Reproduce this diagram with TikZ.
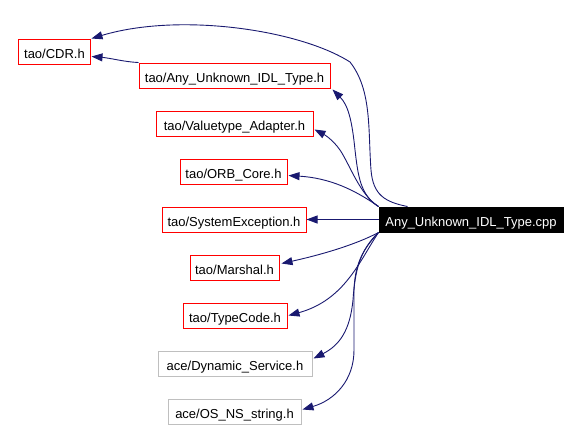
\documentclass[tikz,border=0pt]{standalone}
\usepackage{fontspec}
\setmainfont{Liberation Sans}
\usetikzlibrary{arrows.meta,calc}
\definecolor{edgeblue}{HTML}{191970}
\definecolor{boxred}{HTML}{FF0000}
\definecolor{boxgray}{HTML}{BFBFBF}
\tikzset{
  hdr/.style={draw=boxred, line width=1bp, inner sep=0pt, minimum height=25bp,
    text height=14bp, text depth=0bp,
    font=\fontsize{13bp}{15bp}\selectfont, text=black},
  extbox/.style={hdr, draw=boxgray},
  srcbox/.style={hdr, draw=black, fill=black, text=white},
  edge/.style={draw=edgeblue, line width=0.9bp,
    -{Triangle[length=11bp,width=8bp]}}
}
\begin{document}
\begin{tikzpicture}[x=1bp,y=-1bp]
\useasboundingbox (0,0) rectangle (582,430);
\node[hdr, minimum width=71bp] (cdr) at (54.5,51.5) {tao/CDR.h};
\node[hdr, minimum width=191bp] (anyh) at (234.5,75.5) {tao/Any\_Unknown\_IDL\_Type.h};
\node[hdr, minimum width=157bp] (vta) at (234.5,123.5) {tao/Valuetype\_Adapter.h};
\node[hdr, minimum width=107bp] (orb) at (233.5,171.5) {tao/ORB\_Core.h};
\node[hdr, minimum width=144bp] (sysex) at (234,219.5) {tao/SystemException.h};
\node[hdr, minimum width=89bp] (marshal) at (234.5,267.5) {tao/Marshal.h};
\node[hdr, minimum width=104bp] (typecode) at (235,315.5) {tao/TypeCode.h};
\node[extbox, minimum width=154bp] (dyn) at (235,363.5) {ace/Dynamic\_Service.h};
\node[extbox, minimum width=133bp] (osns) at (234.5,411.5) {ace/OS\_NS\_string.h};
\node[srcbox, minimum width=184bp] (cpp) at (471,219.5) {Any\_Unknown\_IDL\_Type.cpp};

\draw[edge] ($(cpp.north west)+(29,0)$) .. controls (385,202) and (373,195) .. (371,170)
  .. controls (368,130) and (372,90) .. (350,62)
  .. controls (300,30) and (180,12) .. ($(cdr.north east)+(1,0)$);
\draw[edge] (anyh.north west) .. controls (125,62) and (110,58) .. ($(cdr.east)+(1,5)$);
\draw[edge] (cpp.north west) .. controls (360,195) and (358,175) .. (355,150)
  .. controls (352,120) and (348,105) .. ($(anyh.south east)+(2,1)$);
\draw[edge] (cpp.north west) .. controls (360,195) and (350,165) .. (340,150)
  .. controls (333,140) and (325,135) .. ($(vta.east)+(1,6)$);
\draw[edge] (cpp.north west) .. controls (355,190) and (330,178) .. ($(orb.east)+(1,4)$);
\draw[edge] (cpp.west) -- (sysex.east);
\draw[edge] (cpp.south west) .. controls (355,245) and (320,255) .. ($(marshal.east)+(2,-4)$);
\draw[edge] (cpp.south west) .. controls (360,260) and (345,300) .. ($(typecode.east)+(1,0)$);
\draw[edge] (cpp.south west) .. controls (360,250) and (355,270) .. (353,300)
  .. controls (350,330) and (340,345) .. ($(dyn.east)+(1,-5)$);
\draw[edge] (cpp.south west) .. controls (362,250) and (355,265) .. (354,290)
  -- (354,350) .. controls (354,380) and (335,400) .. ($(osns.east)+(1,-2)$);
\end{tikzpicture}
\end{document}
